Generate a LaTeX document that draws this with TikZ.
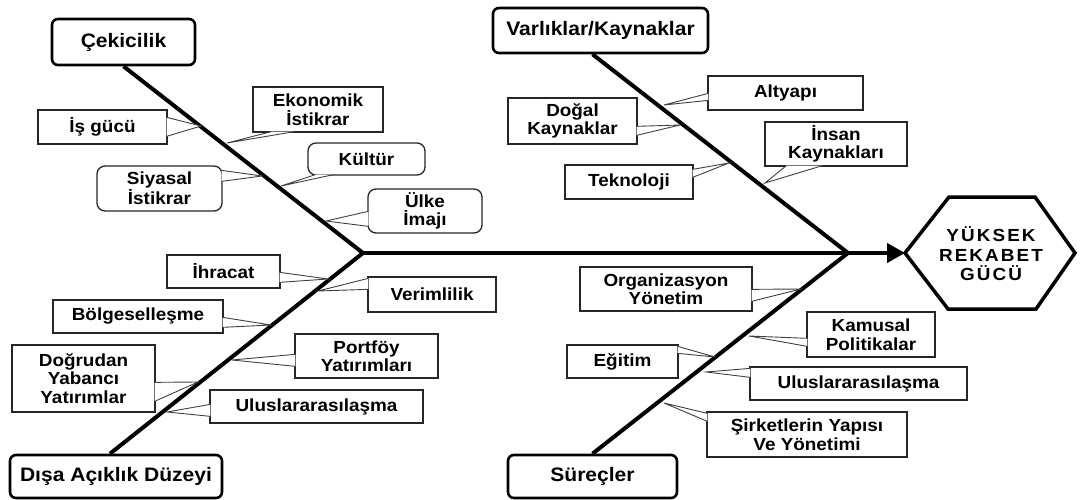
\documentclass[tikz,border=0pt]{standalone}
\usepackage{fontspec}
\setmainfont{Liberation Sans}[FakeStretch=1.08]
\newfontfamily\hexfont{Liberation Sans}[FakeStretch=1.08, LetterSpace=12]
\usetikzlibrary{arrows.meta,calc}

\begin{document}
\begin{tikzpicture}[x=1pt,y=-1pt,
  bone/.style={line width=4pt, line join=miter},
  headbox/.style={draw, line width=2.6pt, rounded corners=6pt, fill=white, inner sep=0pt,
    font=\fontsize{19.5}{21}\selectfont\bfseries, align=center},
  causebox/.style={draw=black!85, line width=1.3pt, fill=white, inner sep=0pt,
    font=\fontsize{17.5}{18.5}\selectfont\bfseries, align=center},
  roundcause/.style={causebox, rounded corners=8pt},
  tail/.style={draw=black!75, line width=0.9pt, fill=white},
]
\useasboundingbox (0,0) rectangle (1081,500);

% main category boxes
\node[headbox, minimum width=143, minimum height=46] (cek) at (123.5,42) {Çekicilik};
\node[headbox, minimum width=215, minimum height=45] (var) at (600.5,30.5) {Varlıklar/Kaynaklar};
\node[headbox, minimum width=212, minimum height=43] (dis) at (116,476.5) {Dışa Açıklık Düzeyi};
\node[headbox, minimum width=169, minimum height=43] (sur) at (592.5,476.5) {Süreçler};

% effect (head of the fish)
\coordinate (hw) at (905,253);
\draw[line width=3.5pt, line join=miter] (hw) -- (949,197) -- (1035,197) -- (1075,253)
  -- (1036,309) -- (948,309) -- cycle;
\node[font=\hexfont\bfseries\fontsize{17.5}{19.5}\selectfont, align=center] (goal) at (991,254)
  {YÜKSEK\\REKABET\\GÜCÜ};

% bones
\coordinate (J1) at (363,253);
\coordinate (J2) at (848,253);
\draw[bone] (cek.south) -- (J1) -- ([xshift=-6pt]dis.north);
\draw[bone] ([xshift=-8pt]var.south) -- (J2) -- (sur.north);
\draw[bone, -{Triangle[length=18pt,width=19pt]}] (J1) -- (hw);

% tips of the callouts on the bones
\coordinate (t1) at (201,126);
\coordinate (t2) at (227,143);
\coordinate (t3) at (262,176);
\coordinate (t4) at (281,186);
\coordinate (t5) at (326,221);
\coordinate (t6) at (664,105);
\coordinate (t7) at (680,125);
\coordinate (t8) at (729,163);
\coordinate (t9) at (765,183);
\coordinate (t10) at (328,279);
\coordinate (t11) at (318,291);
\coordinate (t12) at (271,325);
\coordinate (t13) at (232,360);
\coordinate (t14) at (198,382);
\coordinate (t15) at (167,412);
\coordinate (t16) at (801,289);
\coordinate (t17) at (749,336);
\coordinate (t18) at (715,357);
\coordinate (t19) at (706,372);
\coordinate (t20) at (664,403);

% Çekicilik causes
\node[causebox, minimum width=129, minimum height=34] (isg) at (102.5,127) {İş gücü};
\node[causebox, minimum width=130, minimum height=45] (eko) at (318,109.5) {Ekonomik\\İstikrar};
\node[roundcause, minimum width=125, minimum height=45] (siy) at (159.5,188.5) {Siyasal\\İstikrar};
\node[roundcause, minimum width=117, minimum height=32] (kul) at (366.5,159) {Kültür};
\node[roundcause, minimum width=114, minimum height=44] (ulk) at (425,211) {Ülke\\İmajı};

\filldraw[tail] ($(isg.north east)+(-1,8)$) -- (t1) -- ($(isg.north east)+(-1,27)$);
\filldraw[tail] ($(eko.south west)+(19,-1)$) -- (t2) -- ($(eko.south west)+(42,-1)$);
\filldraw[tail] ($(siy.north east)+(-1,5)$) -- (t3) -- ($(siy.north east)+(-1,16)$);
\filldraw[tail] ($(kul.south west)+(8,-1)$) -- (t4) -- ($(kul.south west)+(26,-1)$);
\filldraw[tail] ($(ulk.north west)+(1,23)$) -- (t5) -- ($(ulk.north west)+(1,38)$);

% Varlıklar/Kaynaklar causes
\node[causebox, minimum width=155, minimum height=34] (alt) at (785.5,93) {Altyapı};
\node[causebox, minimum width=129, minimum height=46] (dog) at (572.5,121) {Doğal\\Kaynaklar};
\node[causebox, minimum width=128, minimum height=34] (tek) at (629,182) {Teknoloji};
\node[causebox, minimum width=142, minimum height=44] (ins) at (836,144) {İnsan\\Kaynakları};

\filldraw[tail] ($(alt.north west)+(1,18)$) -- (t6) -- ($(alt.north west)+(1,25)$);
\filldraw[tail] ($(dog.north east)+(-1,29)$) -- (t7) -- ($(dog.north east)+(-1,38)$);
\filldraw[tail] ($(tek.north east)+(-1,5)$) -- (t8) -- ($(tek.north east)+(-1,13)$);
\filldraw[tail] ($(ins.south west)+(22,-1)$) -- (t9) -- ($(ins.south west)+(58,-1)$);

% Dışa Açıklık Düzeyi causes
\node[causebox, minimum width=113, minimum height=33] (ihr) at (223.5,271.5) {İhracat};
\node[causebox, minimum width=128, minimum height=35] (ver) at (432,294.5) {Verimlilik};
\node[causebox, minimum width=170, minimum height=33] (bol) at (138,316.5) {Bölgeselleşme};
\node[causebox, minimum width=143, minimum height=44] (por) at (366.5,356) {Portföy\\Yatırımları};
\node[causebox, minimum width=143, minimum height=67] (dyy) at (83.5,378.5) {Doğrudan\\Yabancı\\Yatırımlar};
\node[causebox, minimum width=213, minimum height=33] (ul1) at (316.5,406.5) {Uluslararasılaşma};

\filldraw[tail] ($(ihr.north east)+(-1,18)$) -- (t10) -- ($(ihr.north east)+(-1,28)$);
\filldraw[tail] ($(ver.north west)+(1,2)$) -- (t11) -- ($(ver.north west)+(1,13)$);
\filldraw[tail] ($(bol.north east)+(-1,18)$) -- (t12) -- ($(bol.north east)+(-1,28)$);
\filldraw[tail] ($(por.north west)+(1,21)$) -- (t13) -- ($(por.north west)+(1,33)$);
\filldraw[tail] ($(dyy.north east)+(-1,38)$) -- (t14) -- ($(dyy.north east)+(-1,57)$);
\filldraw[tail] ($(ul1.north west)+(1,15)$) -- (t15) -- ($(ul1.north west)+(1,27)$);

% Süreçler causes
\node[causebox, minimum width=172, minimum height=44] (org) at (666,289) {Organizasyon\\Yönetim};
\node[causebox, minimum width=128, minimum height=45] (kam) at (871,334.5) {Kamusal\\Politikalar};
\node[causebox, minimum width=111, minimum height=33] (egi) at (622.5,361.5) {Eğitim};
\node[causebox, minimum width=217, minimum height=33] (ul2) at (858.5,383.5) {Uluslararasılaşma};
\node[causebox, minimum width=200, minimum height=45] (sir) at (807,434.5) {Şirketlerin Yapısı\\Ve Yönetimi};

\filldraw[tail] ($(org.north east)+(-1,23)$) -- (t16) -- ($(org.north east)+(-1,35)$);
\filldraw[tail] ($(kam.north west)+(1,27)$) -- (t17) -- ($(kam.north west)+(1,35)$);
\filldraw[tail] ($(egi.north east)+(-1,2)$) -- (t18) -- ($(egi.north east)+(-1,9)$);
\filldraw[tail] ($(ul2.north west)+(1,2)$) -- (t19) -- ($(ul2.north west)+(1,11)$);
\filldraw[tail] ($(sir.north west)+(1,2)$) -- (t20) -- ($(sir.north west)+(1,10)$);
\end{tikzpicture}
\end{document}
